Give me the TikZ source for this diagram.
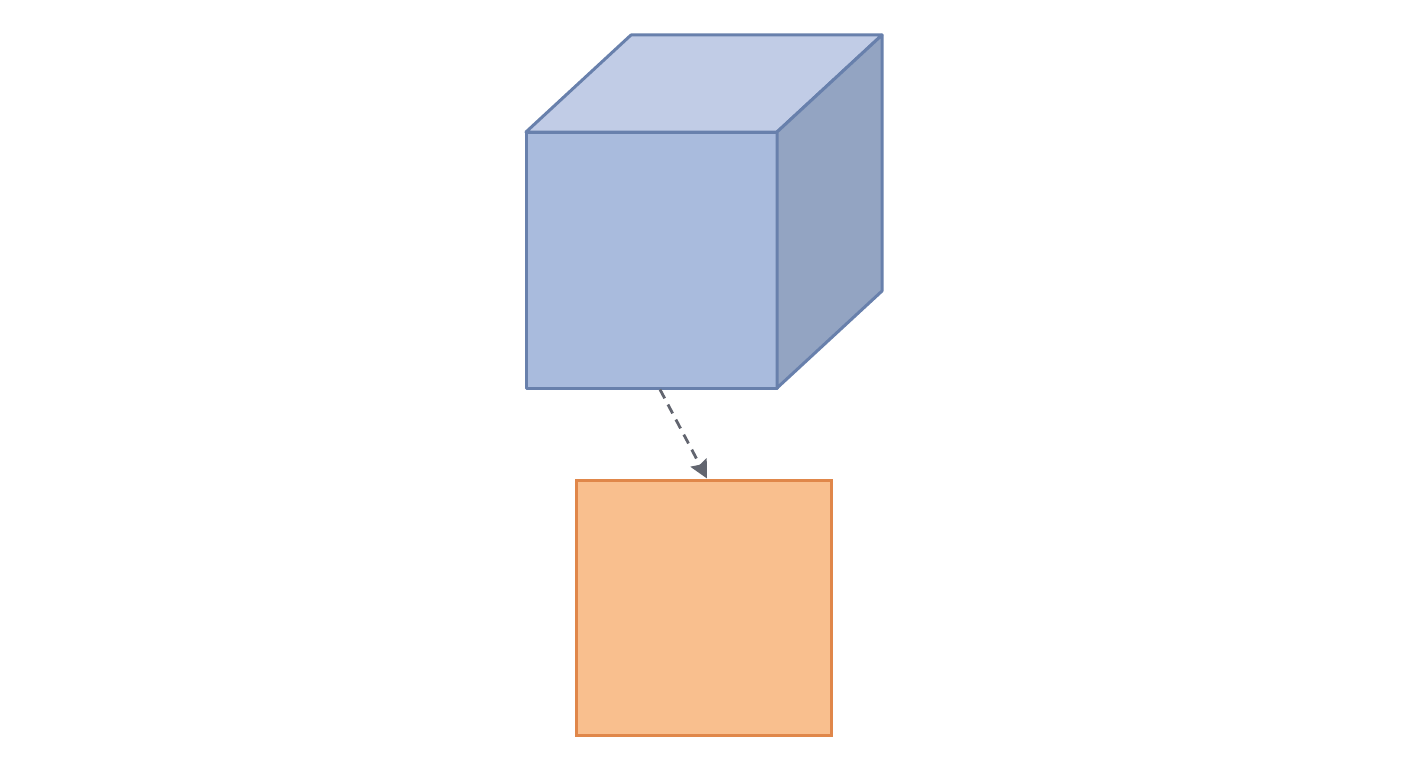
\documentclass[tikz,border=0pt]{standalone}
\usetikzlibrary{arrows.meta,calc}
\definecolor{frontc}{HTML}{A9BBDD}
\definecolor{topc}{HTML}{C1CCE6}
\definecolor{sidec}{HTML}{93A4C2}
\definecolor{edgec}{HTML}{6880AC}
\definecolor{orfill}{HTML}{F9BF8E}
\definecolor{oredge}{HTML}{E0874A}
\definecolor{arrc}{HTML}{62656F}
\tikzset{
  cubeedge/.style={draw=edgec,line width=3pt,line join=round},
  frontbox/.style={cubeedge,fill=frontc,rectangle,minimum width=251pt,minimum height=256pt,inner sep=0pt,outer sep=0pt},
  orbox/.style={draw=oredge,fill=orfill,line width=3pt,rectangle,minimum width=255pt,minimum height=255pt,inner sep=0pt,outer sep=0pt},
  conn/.style={draw=arrc,line width=2.8pt,dash pattern=on 10pt off 7pt,-{Stealth[length=18pt,width=18pt,inset=2.5pt]}}
}
\begin{document}
\begin{tikzpicture}[x=1pt,y=-1pt]
\useasboundingbox (0,0) rectangle (1408,768);
\fill[white] (0,0) rectangle (1408,768);
% cube
\node[frontbox] (front) at (651.5,260) {};
\coordinate (tbl) at (631,35);
\coordinate (tbr) at (882,35);
\coordinate (bbr) at (882,291);
\filldraw[cubeedge,fill=topc] (front.north west) -- (tbl) -- (tbr) -- (front.north east) -- cycle;
\filldraw[cubeedge,fill=sidec] (front.north east) -- (tbr) -- (bbr) -- (front.south east) -- cycle;
% square
\node[orbox] (sq) at (703.5,607.5) {};
% connector
\draw[conn] ($(front.south)+(8.5,1.5)$) -- ($(sq.north)+(3.5,-1.5)$);
\end{tikzpicture}
\end{document}
